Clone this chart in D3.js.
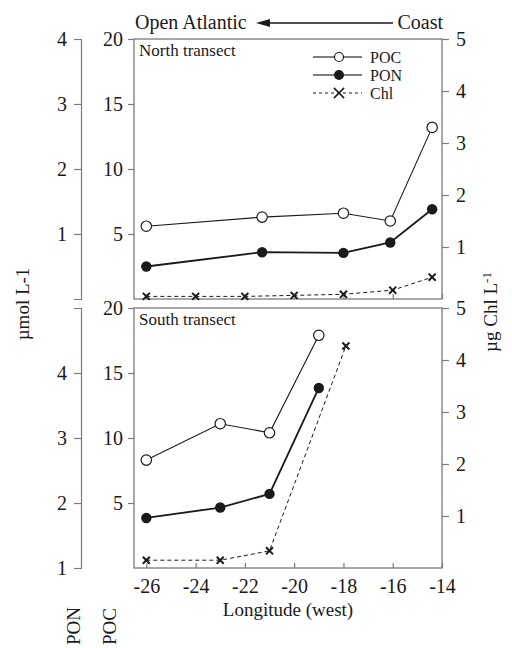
<!DOCTYPE html>
<html>
<head>
<meta charset="utf-8">
<script src="https://cdn.jsdelivr.net/npm/d3@7"></script>
<style>
  html, body { margin: 0; padding: 0; background: #fff; }
  svg text { font-family: "Liberation Serif", "Times New Roman", serif; fill: #1a1a1a; }
</style>
</head>
<body>
<svg id="chart" width="512" height="648"></svg>
<script>
// North transect
const northLonPoc = [-26, -21.3, -18, -16.1, -14.4];
const northPoc    = [5.6, 6.3, 6.6, 6.0, 13.2];
const northPon    = [0.50, 0.72, 0.71, 0.87, 1.38];
const northLonChl = [-26, -24, -22, -20, -18, -16, -14.4];
const northChl    = [0.05, 0.05, 0.05, 0.07, 0.09, 0.17, 0.42];

// South transect
const southLonPoc = [-26, -23, -21, -19];
const southPoc    = [8.3, 11.1, 10.4, 17.9];
const southPon    = [1.77, 1.93, 2.14, 3.77];
const southLonChl = [-26, -23, -21, -17.9];
const southChl    = [0.15, 0.15, 0.33, 4.27];

// Tick labels
const lonTicks = [-26, -24, -22, -20, -18, -16, -14];
const pocTicks = [5, 10, 15, 20];
const ponTicks = [1, 2, 3, 4];
const chlTicks = [1, 2, 3, 4, 5];
const legendLabels = ["POC", "PON", "Chl"];

const svg = d3.select("#chart");
const ink = "#1a1a1a";
const frameColor = "#7a7a7a";
const plain = d => String(d);   // keeps the ASCII hyphen for negative longitudes

const left = 134, right = 442;
const x = d3.scaleLinear().domain([-26.5, -14]).range([left, right]);

const panels = [
  { name: "North transect", top: 39, bottom: 299, ponDomain: [0, 4],
    lonPoc: northLonPoc, poc: northPoc, pon: northPon, lonChl: northLonChl, chl: northChl, legend: true },
  { name: "South transect", top: 308, bottom: 568, ponDomain: [1, 5],
    lonPoc: southLonPoc, poc: southPoc, pon: southPon, lonChl: southLonChl, chl: southChl, legend: false }
];

function styleAxis(g, fontSize) {
  g.attr("font-family", null);
  g.selectAll("line").attr("stroke", frameColor).attr("stroke-width", 1.2);
  g.selectAll("path.domain").attr("stroke", frameColor).attr("stroke-width", 1.2);
  g.selectAll("text").attr("font-size", fontSize).attr("fill", ink);
}

const xMarker = d3.symbol().type(d3.symbolTimes).size(34);

panels.forEach((p, i) => {
  const yPoc = d3.scaleLinear().domain([0, 20]).range([p.bottom, p.top]);
  const yPon = d3.scaleLinear().domain(p.ponDomain).range([p.bottom, p.top]);
  const yChl = d3.scaleLinear().domain([0, 5]).range([p.bottom, p.top]);

  // PON bracket axis
  const gPon = svg.append("g").attr("transform", "translate(81,0)")
    .call(d3.axisLeft(yPon).tickValues(ponTicks).tickSizeInner(7).tickSizeOuter(7).tickPadding(7)
      .tickFormat(plain));
  styleAxis(gPon, 20);

  // POC axis on the frame
  const gPoc = svg.append("g").attr("transform", `translate(${left},0)`)
    .call(d3.axisLeft(yPoc).tickValues(pocTicks).tickSize(6).tickPadding(5).tickFormat(plain));
  gPoc.select("path.domain").remove();
  styleAxis(gPoc, 20);

  // Chl axis on the right
  const gChl = svg.append("g").attr("transform", `translate(${right},0)`)
    .call(d3.axisRight(yChl).tickValues(chlTicks).tickSize(7).tickPadding(7).tickFormat(plain));
  gChl.select("path.domain").remove();
  styleAxis(gChl, 20);

  // Longitude axis, ticks pointing inward
  const gx = svg.append("g").attr("transform", `translate(0,${p.bottom})`)
    .call(d3.axisBottom(x).tickValues(lonTicks).tickSize(-5).tickPadding(11).tickFormat(plain));
  gx.select("path.domain").remove();
  styleAxis(gx, 20);
  if (i === 0) gx.selectAll("text").remove();

  // Frame
  svg.append("rect")
    .attr("x", left).attr("y", p.top)
    .attr("width", right - left).attr("height", p.bottom - p.top)
    .attr("fill", "none").attr("stroke", frameColor).attr("stroke-width", 1.3);

  svg.append("text").attr("x", left + 5).attr("y", p.top + 17)
    .attr("font-size", 17).text(p.name);

  // Chl: dashed line with x markers
  const chlPts = p.lonChl.map((lon, k) => [x(lon), yChl(p.chl[k])]);
  svg.append("path").attr("d", d3.line()(chlPts))
    .attr("fill", "none").attr("stroke", ink).attr("stroke-width", 1).attr("stroke-dasharray", "4,3");
  svg.selectAll(null).data(chlPts).join("path")
    .attr("d", xMarker).attr("transform", d => `translate(${d[0]},${d[1]})`)
    .attr("stroke", ink).attr("stroke-width", 2).attr("fill", "none");

  // PON: thicker line with filled circles
  const ponPts = p.lonPoc.map((lon, k) => [x(lon), yPon(p.pon[k])]);
  svg.append("path").attr("d", d3.line()(ponPts))
    .attr("fill", "none").attr("stroke", ink).attr("stroke-width", 1.8);
  svg.selectAll(null).data(ponPts).join("circle")
    .attr("cx", d => d[0]).attr("cy", d => d[1]).attr("r", 5.2).attr("fill", ink);

  // POC: thin line with open circles
  const pocPts = p.lonPoc.map((lon, k) => [x(lon), yPoc(p.poc[k])]);
  svg.append("path").attr("d", d3.line()(pocPts))
    .attr("fill", "none").attr("stroke", ink).attr("stroke-width", 1.1);
  svg.selectAll(null).data(pocPts).join("circle")
    .attr("cx", d => d[0]).attr("cy", d => d[1]).attr("r", 5.2)
    .attr("fill", "#fff").attr("stroke", ink).attr("stroke-width", 1.2);

  if (p.legend) {
    const ly = [57, 75, 93];
    const lg = svg.append("g");
    legendLabels.forEach((lab, k) => {
      lg.append("line").attr("x1", 313).attr("x2", 362).attr("y1", ly[k]).attr("y2", ly[k])
        .attr("stroke", k === 2 ? ink : "#555").attr("stroke-width", k === 2 ? 1 : 1.4)
        .attr("stroke-dasharray", k === 2 ? "3,3" : null);
      if (k === 0) lg.append("circle").attr("cx", 339).attr("cy", ly[k]).attr("r", 4.5)
        .attr("fill", "#fff").attr("stroke", ink).attr("stroke-width", 1.2);
      if (k === 1) lg.append("circle").attr("cx", 339).attr("cy", ly[k]).attr("r", 5).attr("fill", ink);
      if (k === 2) lg.append("path").attr("d", d3.symbol().type(d3.symbolTimes).size(70))
        .attr("transform", `translate(339,${ly[k]})`).attr("stroke", ink).attr("stroke-width", 1.5).attr("fill", "none");
      lg.append("text").attr("x", 370).attr("y", ly[k]).attr("dy", "0.35em")
        .attr("font-size", 16).text(lab);
    });
  }
});

// Direction header
svg.append("text").attr("x", 135).attr("y", 29).attr("font-size", 20).text("Open Atlantic");
svg.append("text").attr("x", 443).attr("y", 29).attr("font-size", 20).attr("text-anchor", "end").text("Coast");
svg.append("line").attr("x1", 264).attr("x2", 393).attr("y1", 23).attr("y2", 23)
  .attr("stroke", ink).attr("stroke-width", 1.5);
svg.append("path").attr("d", "M256,23L270,19L270,27Z").attr("fill", ink);

// Axis titles
svg.append("text").attr("x", 288).attr("y", 616).attr("font-size", 19)
  .attr("text-anchor", "middle").text("Longitude (west)");

svg.append("text").attr("transform", "translate(29,304) rotate(-90)")
  .attr("font-size", 19).attr("text-anchor", "middle").text("µmol L-1");

const rt = svg.append("text").attr("transform", "translate(497,312) rotate(-90)")
  .attr("font-size", 19).attr("text-anchor", "middle");
rt.append("tspan").text("µg Chl L");
rt.append("tspan").attr("dy", "-0.45em").attr("font-size", 13).text("-1");

svg.append("text").attr("transform", "translate(80,645) rotate(-90)")
  .attr("font-size", 19).text("PON");
svg.append("text").attr("transform", "translate(116,645) rotate(-90)")
  .attr("font-size", 19).text("POC");
</script>
</body>
</html>
